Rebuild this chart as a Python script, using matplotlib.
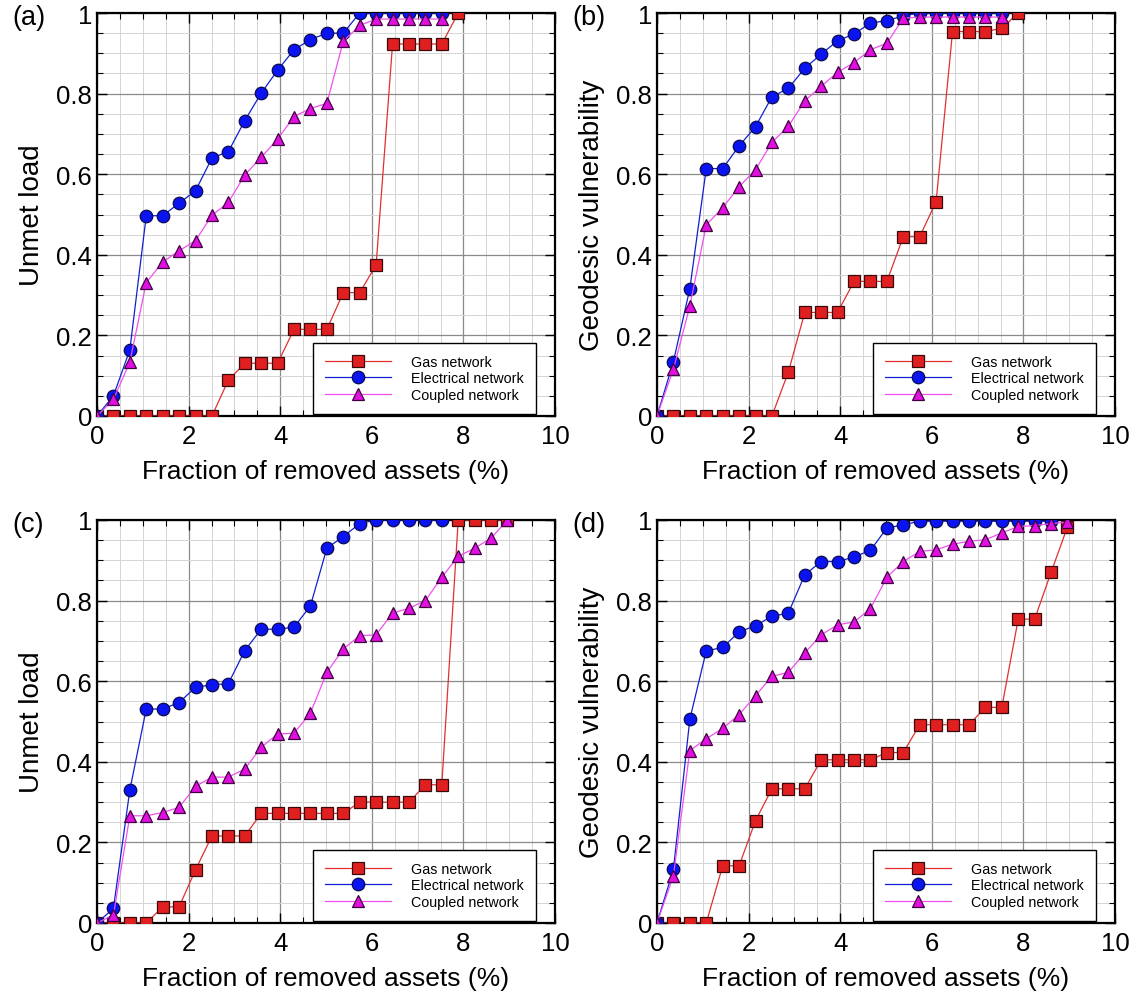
import matplotlib
matplotlib.use('Agg')
import matplotlib.pyplot as plt
from matplotlib.ticker import MultipleLocator, FixedLocator, FixedFormatter

plt.rcParams['font.family'] = ['Liberation Sans', 'DejaVu Sans']

# passo entre remocoes sucessivas (% de ativos)
STEP = 0.3585

# --- (a) carga nao atendida ---
gas_a = [0, 0, 0, 0, 0, 0, 0, 0, 0.089, 0.131, 0.131, 0.131, 0.215, 0.215, 0.215,
         0.306, 0.306, 0.375, 0.923, 0.923, 0.923, 0.923, 1.0]
ele_a = [0, 0.05, 0.164, 0.497, 0.497, 0.528, 0.559, 0.64, 0.656, 0.733, 0.801, 0.858,
         0.909, 0.934, 0.95, 0.95, 1.0, 1.0, 1.0, 1.0, 1.0, 1.0]
cou_a = [0, 0.041, 0.134, 0.331, 0.382, 0.41, 0.435, 0.498, 0.53, 0.598, 0.642, 0.687,
         0.743, 0.763, 0.776, 0.93, 0.969, 0.985, 0.985, 0.985, 0.985, 0.985]

# --- (b) vulnerabilidade geodesica ---
gas_b = [0, 0, 0, 0, 0, 0, 0, 0, 0.109, 0.257, 0.257, 0.257, 0.334, 0.334, 0.334,
         0.445, 0.445, 0.532, 0.954, 0.954, 0.954, 0.962, 1.0]
ele_b = [0, 0.135, 0.316, 0.614, 0.614, 0.67, 0.718, 0.792, 0.813, 0.863, 0.898, 0.931,
         0.948, 0.975, 0.981, 0.993, 1.0, 1.0, 1.0, 1.0, 1.0, 1.0]
cou_b = [0, 0.116, 0.273, 0.474, 0.517, 0.569, 0.611, 0.679, 0.719, 0.782, 0.818, 0.853,
         0.877, 0.909, 0.925, 0.987, 0.99, 0.99, 0.99, 0.99, 0.99, 0.99]

# --- (c) carga nao atendida ---
gas_c = [0, 0, 0, 0, 0.04, 0.04, 0.132, 0.216, 0.216, 0.216, 0.272, 0.272, 0.272, 0.272,
         0.272, 0.272, 0.3, 0.3, 0.3, 0.3, 0.343, 0.343, 1.0, 1.0, 1.0, 1.0]
ele_c = [0, 0.036, 0.33, 0.531, 0.531, 0.547, 0.585, 0.591, 0.594, 0.676, 0.729, 0.729,
         0.734, 0.787, 0.93, 0.959, 0.991, 1.0, 1.0, 1.0, 1.0, 1.0]
cou_c = [0, 0.02, 0.266, 0.266, 0.274, 0.287, 0.339, 0.362, 0.362, 0.382, 0.436, 0.469,
         0.471, 0.521, 0.622, 0.68, 0.713, 0.715, 0.769, 0.781, 0.8, 0.858, 0.91, 0.93,
         0.955, 1.0]

# --- (d) vulnerabilidade geodesica ---
gas_d = [0, 0, 0, 0, 0.142, 0.142, 0.254, 0.333, 0.333, 0.333, 0.405, 0.405, 0.405, 0.405,
         0.423, 0.423, 0.492, 0.492, 0.492, 0.492, 0.535, 0.535, 0.754, 0.754, 0.87, 0.983]
ele_d = [0, 0.133, 0.506, 0.675, 0.684, 0.722, 0.738, 0.761, 0.769, 0.864, 0.897, 0.897,
         0.908, 0.925, 0.98, 0.988, 0.997, 0.997, 0.997, 0.997, 0.997, 0.997, 0.997, 0.997,
         0.997]
cou_d = [0, 0.117, 0.428, 0.457, 0.483, 0.517, 0.564, 0.612, 0.622, 0.67, 0.715, 0.74,
         0.747, 0.78, 0.858, 0.897, 0.922, 0.926, 0.94, 0.947, 0.951, 0.968, 0.984, 0.986,
         0.991, 0.995]

panels = [
    ('(a)', 'Unmet load', gas_a, ele_a, cou_a),
    ('(b)', 'Geodesic vulnerability', gas_b, ele_b, cou_b),
    ('(c)', 'Unmet load', gas_c, ele_c, cou_c),
    ('(d)', 'Geodesic vulnerability', gas_d, ele_d, cou_d),
]

W, H = 1137, 1003
fig = plt.figure(figsize=(W / 100, H / 100), dpi=100)

# posicoes em pixels (esq, topo) de cada eixo
boxes = [(97, 14), (657, 14), (97, 521), (657, 521)]
aw, ah = 458, 403

for (letter, ylabel, gas, ele, cou), (px, py) in zip(panels, boxes):
    ax = fig.add_axes([px / W, 1 - (py + ah) / H, aw / W, ah / H])

    xs = lambda v: [i * STEP for i in range(len(v))]
    ax.plot(xs(gas), gas, color='#e03030', lw=0.9, marker='s', ms=8.5,
            mfc='#e02020', mec='#3a0a0a', mew=0.9, label='Gas network', zorder=3)
    ax.plot(xs(ele), ele, color='#1020d0', lw=0.9, marker='o', ms=9,
            mfc='#0a14f0', mec='#0a0a50', mew=0.9, label='Electrical network', zorder=4)
    ax.plot(xs(cou), cou, color='#f050f0', lw=0.9, marker='^', ms=9,
            mfc='#e010e0', mec='#400040', mew=0.9, label='Coupled network', zorder=5)

    ax.set_xlim(0, 10)
    ax.set_ylim(0, 1)
    ax.xaxis.set_major_locator(MultipleLocator(2))
    ax.xaxis.set_minor_locator(MultipleLocator(0.5))
    ax.yaxis.set_major_locator(FixedLocator([0, 0.2, 0.4, 0.6, 0.8, 1.0]))
    ax.yaxis.set_major_formatter(FixedFormatter(['0', '0.2', '0.4', '0.6', '0.8', '1']))
    ax.yaxis.set_minor_locator(MultipleLocator(0.05))

    ax.grid(True, which='major', color='#8a8a8a', lw=0.9)
    ax.grid(True, which='minor', color='#d4d4d4', lw=0.7)
    ax.set_axisbelow(True)

    ax.tick_params(which='both', direction='in', top=True, right=True, labelsize=18.5)
    ax.tick_params(which='major', length=7, width=1)
    ax.tick_params(axis='x', which='major', pad=6)
    ax.tick_params(which='minor', length=4, width=0.8)
    for s in ax.spines.values():
        s.set_linewidth(1.6)

    ax.set_xlabel('Fraction of removed assets (%)', fontsize=19, labelpad=8)
    ax.set_ylabel(ylabel, fontsize=20, labelpad=8)

    leg = ax.legend(loc='lower right', bbox_to_anchor=(0.9585, 0.005), borderaxespad=0,
                    fontsize=10.3, handlelength=4.6, handletextpad=1.4, labelspacing=0.18,
                    borderpad=0.85, fancybox=False, framealpha=1, edgecolor='black')
    leg.get_frame().set_linewidth(1.0)

    fig.text((px - 85) / W, 1 - (py + 4) / H, letter, fontsize=19.5, va='center', ha='left')

fig.savefig('out.png', dpi=100)
